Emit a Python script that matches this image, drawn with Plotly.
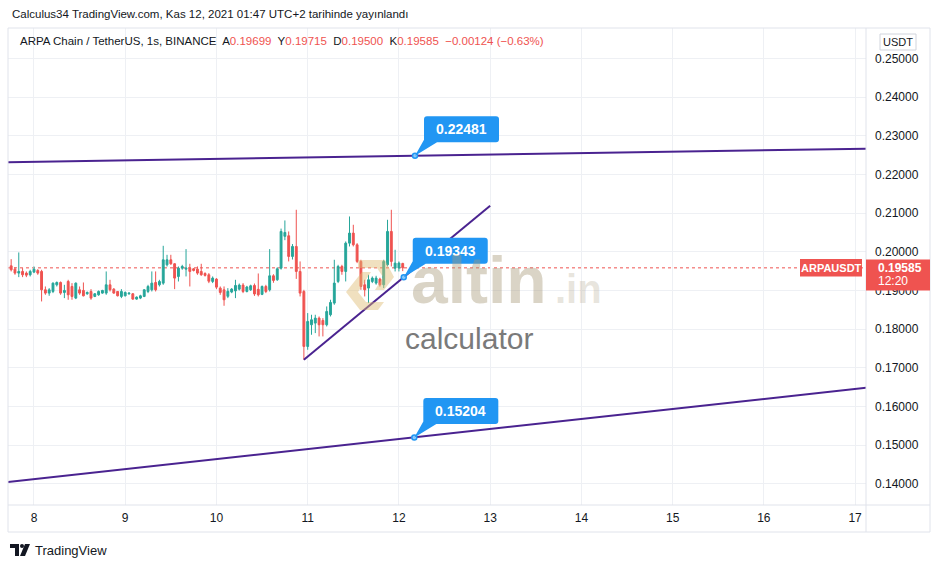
import plotly.graph_objects as go
import pandas as pd

# ---------------- data ----------------
first_candle = "2021-11-07 18:00"   # hourly candles (1s = 1 saat)
opens = [0.19638, 0.19552, 0.19449, 0.19492, 0.19449, 0.19406, 0.19475, 0.19518, 0.19492, 0.19018,
         0.18932, 0.18975, 0.19147, 0.19207, 0.18949, 0.19233, 0.19104, 0.18803, 0.19018, 0.19001,
         0.18915, 0.18975, 0.18846, 0.18889, 0.18932, 0.18932, 0.19147, 0.19035, 0.18975, 0.18846,
         0.18863, 0.18915, 0.18915, 0.18777, 0.18803, 0.18846, 0.18975, 0.19018, 0.19207, 0.19147,
         0.19190, 0.19664, 0.19793, 0.19690, 0.19363, 0.19578, 0.19552, 0.19578, 0.19561, 0.19552,
         0.19492, 0.19440, 0.19406, 0.19234, 0.19294, 0.19061, 0.19018, 0.18850, 0.18960, 0.18990,
         0.19035, 0.19140, 0.18975, 0.19018, 0.19130, 0.19030, 0.18900, 0.19104, 0.19018, 0.19380,
         0.19277, 0.19578, 0.20400, 0.20414, 0.19880, 0.20138, 0.19492, 0.18975, 0.17554, 0.18114,
         0.18157, 0.18286, 0.18226, 0.18114, 0.18373, 0.18674, 0.19234, 0.19621, 0.19492, 0.20224,
         0.20483, 0.20181, 0.19751, 0.19148, 0.19062, 0.19234, 0.19191, 0.19294, 0.19148, 0.19664,
         0.20526, 0.19578, 0.19580, 0.19699]
highs = [0.19810, 0.19604, 0.19983, 0.19578, 0.19492, 0.19535, 0.19621, 0.19552, 0.19535, 0.19104,
         0.19061, 0.19207, 0.19233, 0.19233, 0.19147, 0.19276, 0.19190, 0.19207, 0.19104, 0.19207,
         0.18975, 0.19035, 0.18932, 0.19001, 0.19018, 0.19492, 0.19276, 0.19061, 0.18975, 0.19035,
         0.18975, 0.18949, 0.18932, 0.18846, 0.18889, 0.19035, 0.19147, 0.19492, 0.19492, 0.19276,
         0.20155, 0.19922, 0.19922, 0.19707, 0.19621, 0.19664, 0.20069, 0.19690, 0.19578, 0.19621,
         0.19690, 0.19470, 0.19449, 0.19363, 0.19320, 0.19104, 0.19105, 0.19061, 0.19061, 0.19276,
         0.19180, 0.19190, 0.19120, 0.19150, 0.19180, 0.19440, 0.19130, 0.19147, 0.20069, 0.19420,
         0.19600, 0.20600, 0.20810, 0.20526, 0.20200, 0.21086, 0.19751, 0.19018, 0.18416, 0.18373,
         0.18373, 0.18329, 0.18286, 0.18588, 0.18760, 0.19794, 0.19664, 0.19664, 0.20267, 0.20913,
         0.20698, 0.20224, 0.19794, 0.19277, 0.19406, 0.19363, 0.19380, 0.19330, 0.19794, 0.20827,
         0.21086, 0.20052, 0.19751, 0.19715]
lows = [0.19492, 0.19406, 0.19345, 0.19345, 0.19345, 0.19363, 0.19449, 0.19406, 0.18717, 0.18889,
        0.18863, 0.18932, 0.19104, 0.18889, 0.18803, 0.18760, 0.18760, 0.18777, 0.18889, 0.18846,
        0.18889, 0.18760, 0.18829, 0.18863, 0.18915, 0.18889, 0.18975, 0.18915, 0.18846, 0.18803,
        0.18846, 0.18889, 0.18760, 0.18760, 0.18777, 0.18829, 0.18932, 0.18975, 0.18975, 0.19104,
        0.19147, 0.19621, 0.19664, 0.19035, 0.19233, 0.19535, 0.19363, 0.19104, 0.19492, 0.19406,
        0.19380, 0.19360, 0.19190, 0.19191, 0.19036, 0.18889, 0.18605, 0.18803, 0.18930, 0.18803,
        0.19000, 0.18932, 0.18950, 0.18990, 0.18860, 0.18846, 0.18880, 0.18932, 0.18975, 0.19200,
        0.19250, 0.19540, 0.20300, 0.19751, 0.19800, 0.19300, 0.18846, 0.17210, 0.17468, 0.17856,
        0.17899, 0.17813, 0.17813, 0.18071, 0.18329, 0.18631, 0.19191, 0.19406, 0.19234, 0.20138,
        0.20138, 0.19707, 0.19018, 0.18846, 0.18674, 0.19191, 0.19150, 0.19100, 0.19062, 0.19621,
        0.19621, 0.19492, 0.19492, 0.19500]
closes = [0.19535, 0.19449, 0.19492, 0.19406, 0.19397, 0.19492, 0.19552, 0.19449, 0.19018, 0.18932,
          0.19018, 0.19190, 0.19207, 0.18932, 0.19001, 0.18889, 0.18846, 0.19190, 0.18932, 0.18863,
          0.18949, 0.18803, 0.18915, 0.18975, 0.19001, 0.19147, 0.19018, 0.18932, 0.18863, 0.18975,
          0.18949, 0.18932, 0.18777, 0.18829, 0.18863, 0.19018, 0.19104, 0.19190, 0.19018, 0.19233,
          0.19793, 0.19793, 0.19690, 0.19320, 0.19578, 0.19621, 0.19578, 0.19492, 0.19518, 0.19449,
          0.19406, 0.19390, 0.19240, 0.19320, 0.19087, 0.18950, 0.18760, 0.18980, 0.19036, 0.19130,
          0.19140, 0.18975, 0.19090, 0.19121, 0.18910, 0.18889, 0.19104, 0.18975, 0.19380, 0.19260,
          0.19560, 0.20526, 0.20500, 0.19880, 0.20138, 0.19492, 0.18932, 0.17554, 0.18200, 0.18243,
          0.18286, 0.18114, 0.18114, 0.18459, 0.18691, 0.19191, 0.19621, 0.19492, 0.20224, 0.20483,
          0.20181, 0.19751, 0.19105, 0.19018, 0.19277, 0.19320, 0.19320, 0.19148, 0.19751, 0.20526,
          0.19751, 0.19707, 0.19709, 0.19585]

price_ticks = [0.14, 0.15, 0.16, 0.17, 0.18, 0.19, 0.20, 0.21, 0.22, 0.23, 0.24, 0.25]
day_ticks = ["2021-11-08", "2021-11-09", "2021-11-10", "2021-11-11", "2021-11-12",
             "2021-11-13", "2021-11-14", "2021-11-15", "2021-11-16", "2021-11-17"]
day_labels = ["8", "9", "10", "11", "12", "13", "14", "15", "16", "17"]

x_range = ["2021-11-07 17:10", "2021-11-17 02:52"]
y_range = [0.13457, 0.25783]

trend_upper_t = ["2021-11-07 17:00", "2021-11-17 03:00"]
trend_upper_p = [0.22313, 0.22665]
trend_lower_t = ["2021-11-07 17:00", "2021-11-17 03:00"]
trend_lower_p = [0.14048, 0.16489]
trend_rise_t = ["2021-11-10 23:00", "2021-11-13 00:00"]
trend_rise_p = [0.17210, 0.21191]

callout_t = ["2021-11-12 04:14", "2021-11-12 01:16", "2021-11-12 04:03"]
callout_p = [0.22481, 0.19343, 0.15204]

symbol = "ARPAUSDT"
countdown = "12:20"
title_line = "Calculus34 TradingView.com, Kas 12, 2021 01:47 UTC+2 tarihinde yayınlandı"
pair_line = "ARPA Chain / TetherUS, 1s, BINANCE"

# ---------------- style ----------------
UP, DOWN = "#26a69a", "#ef5350"
TREND = "#4a2390"
BLUE = "#2196f3"
GRID = "#eef0f4"
BORDER = "#e0e3eb"
TXT = "#131722"
FONT = "Liberation Sans"

W, H = 940, 568
PL, PR, PT, PB = 8, 866, 28, 505


def fx(px):
    return (px - PL) / (PR - PL)


def fy(py):
    return (PB - py) / (PB - PT)


times = pd.date_range(first_candle, periods=len(opens), freq="h")

fig = go.Figure()
fig.add_trace(go.Candlestick(
    x=times, open=opens, high=highs, low=lows, close=closes,
    increasing=dict(line=dict(color=UP, width=1), fillcolor=UP),
    decreasing=dict(line=dict(color=DOWN, width=1), fillcolor=DOWN),
    whiskerwidth=0, hoverinfo="skip", showlegend=False,
))

for t, p in [(trend_upper_t, trend_upper_p), (trend_lower_t, trend_lower_p), (trend_rise_t, trend_rise_p)]:
    fig.add_trace(go.Scatter(x=t, y=p, mode="lines", line=dict(color=TREND, width=2),
                             hoverinfo="skip", showlegend=False))

fig.add_trace(go.Scatter(x=callout_t, y=callout_p, mode="markers",
                         marker=dict(size=5, color="#90caf9", line=dict(color=BLUE, width=1.5)),
                         hoverinfo="skip", showlegend=False, cliponaxis=False))

shapes = []
annotations = []

# callout boxes with tail (pixel-sized, anchored at the data point)
callout_path = ("M 0 0 L 9 16 L 9 36.5 Q 9 39.5 12 39.5 L 81 39.5 Q 84 39.5 84 36.5 "
                "L 84 16.5 Q 84 13.5 81 13.5 L 22 13.5 Z")
for t, p in zip(callout_t, callout_p):
    shapes.append(dict(type="path", xref="x", yref="y", xsizemode="pixel", ysizemode="pixel",
                       xanchor=t, yanchor=p, path=callout_path,
                       fillcolor=BLUE, line=dict(width=0), layer="above"))
    annotations.append(dict(x=t, y=p, xref="x", yref="y", xshift=46.5, yshift=26.5,
                            xanchor="center", yanchor="middle",
                            text=f"<b>{p:.5f}</b>", showarrow=False,
                            font=dict(family=FONT, size=14, color="white")))

last_close = closes[-1]
prev_close = closes[-2]
chg = last_close - prev_close
chg_pct = chg / prev_close * 100

# dotted last price line
shapes.append(dict(type="line", xref="paper", yref="y", x0=0, x1=1, y0=last_close, y1=last_close,
                   line=dict(color=DOWN, width=1, dash="dot"), layer="below"))


# watermark logo (altin.in)
def poly(pts):
    return "M " + " L ".join(f"{fx(a):.5f} {fy(b):.5f}" for a, b in pts) + " Z"


shapes.append(dict(type="path", xref="paper", yref="paper",
                   path=poly([(358, 260), (385, 260), (394, 277), (384, 290), (375, 290),
                              (383, 277), (377, 268), (358, 268)]),
                   fillcolor="rgba(222,186,112,0.45)", line=dict(width=0), layer="above"))
shapes.append(dict(type="path", xref="paper", yref="paper",
                   path=poly([(362, 272), (371, 272), (358, 292), (366, 302), (384, 302),
                              (378, 310), (360, 310), (346, 292)]),
                   fillcolor="rgba(222,186,112,0.45)", line=dict(width=0), layer="above"))
annotations.append(dict(x=fx(409), y=fy(280), xref="paper", yref="paper", xanchor="left",
                        yanchor="middle", text="<b>altin</b>", showarrow=False,
                        font=dict(family=FONT, size=66, color="rgba(168,152,120,0.42)")))
annotations.append(dict(x=fx(553), y=fy(289), xref="paper", yref="paper", xanchor="left",
                        yanchor="middle", text="<b>.in</b>", showarrow=False,
                        font=dict(family=FONT, size=40, color="rgba(175,165,140,0.3)")))
annotations.append(dict(x=fx(469.5), y=fy(338.5), xref="paper", yref="paper", xanchor="center",
                        yanchor="middle", text="calculator", showarrow=False,
                        font=dict(family=FONT, size=30, color="#7a7a7a")))

# frame lines
shapes += [
    dict(type="rect", xref="paper", yref="paper", x0=fx(8), x1=fx(930), y0=fy(532), y1=fy(28),
         line=dict(color=BORDER, width=1), layer="above"),
    dict(type="line", xref="paper", yref="paper", x0=fx(866), x1=fx(866), y0=fy(532), y1=fy(28),
         line=dict(color=BORDER, width=1), layer="above"),
    dict(type="line", xref="paper", yref="paper", x0=fx(8), x1=fx(930), y0=fy(505), y1=fy(505),
         line=dict(color=BORDER, width=1), layer="above"),
]

# symbol label + last price label
shapes.append(dict(type="rect", xref="paper", yref="y", ysizemode="pixel", yanchor=last_close,
                   x0=fx(800), x1=fx(862), y0=-8.7, y1=8.8, fillcolor=DOWN, line=dict(width=0),
                   layer="above"))
shapes.append(dict(type="rect", xref="paper", yref="y", ysizemode="pixel", yanchor=last_close,
                   x0=fx(866), x1=fx(930), y0=-22.7, y1=8.3, fillcolor=DOWN, line=dict(width=0),
                   layer="above"))
annotations.append(dict(x=fx(831), y=last_close, xref="paper", yref="y", xanchor="center",
                        yanchor="middle", text=f"<b>{symbol}</b>",
                        showarrow=False, font=dict(family=FONT, size=11, color="white")))
annotations.append(dict(x=fx(876), y=last_close, xref="paper", yref="y", xanchor="left",
                        yanchor="middle", text=f"<b>{last_close:.5f}</b>", showarrow=False,
                        font=dict(family=FONT, size=12, color="white")))
annotations.append(dict(x=fx(876), y=last_close, xref="paper", yref="y", xanchor="left",
                        yanchor="middle", yshift=-13.5, text=countdown, showarrow=False,
                        font=dict(family=FONT, size=12, color="white")))

# USDT box
shapes.append(dict(type="rect", xref="paper", yref="paper", x0=fx(880), x1=fx(916), y0=fy(50), y1=fy(34),
                   line=dict(color="#d1d4dc", width=1), fillcolor="white", layer="above"))
annotations.append(dict(x=fx(898), y=fy(42), xref="paper", yref="paper", xanchor="center",
                        yanchor="middle", text="USDT", showarrow=False,
                        font=dict(family=FONT, size=11, color=TXT)))

# header lines
annotations.append(dict(x=fx(10), y=fy(14), xref="paper", yref="paper", xanchor="left", yanchor="middle",
                        text=title_line, showarrow=False, font=dict(family=FONT, size=11.5, color=TXT)))


def red(s):
    return f"<span style='color:{DOWN}'>{s}</span>"


pair_text = (f"{pair_line}  A{red(f'{opens[-1]:.5f}')}  Y{red(f'{highs[-1]:.5f}')}  "
             f"D{red(f'{lows[-1]:.5f}')}  K{red(f'{last_close:.5f}')}  "
             + red(f"{chg:+.5f} ({chg_pct:+.2f}%)".replace("-", "−")))
annotations.append(dict(x=fx(18), y=fy(41), xref="paper", yref="paper", xanchor="left", yanchor="middle",
                        text=pair_text, showarrow=False, font=dict(family=FONT, size=11.5, color=TXT)))

# TradingView footer
annotations.append(dict(x=fx(33), y=fy(550), xref="paper", yref="paper", xanchor="left", yanchor="middle",
                        text="TradingView", showarrow=False, font=dict(family=FONT, size=13, color=TXT)))
shapes.append(dict(type="path", xref="paper", yref="paper",
                   path=poly([(10, 544), (19, 544), (19, 556), (15, 556), (15, 548), (10, 548)]),
                   fillcolor=TXT, line=dict(width=0), layer="above"))
shapes.append(dict(type="circle", xref="paper", yref="paper", x0=fx(20), x1=fx(24), y0=fy(548), y1=fy(544),
                   fillcolor=TXT, line=dict(width=0), layer="above"))
shapes.append(dict(type="path", xref="paper", yref="paper",
                   path=poly([(25, 544), (30, 544), (25, 556), (20, 556)]),
                   fillcolor=TXT, line=dict(width=0), layer="above"))

fig.update_layout(
    width=W, height=H,
    margin=dict(l=PL, r=W - PR, t=PT, b=H - PB),
    paper_bgcolor="white", plot_bgcolor="white",
    showlegend=False, hovermode=False,
    shapes=shapes, annotations=annotations,
    xaxis=dict(type="date", range=x_range, rangeslider=dict(visible=False),
               tickvals=day_ticks, ticktext=day_labels, showgrid=True, gridcolor=GRID, gridwidth=1,
               zeroline=False, showline=False, ticks="", ticklabelstandoff=4,
               tickfont=dict(family=FONT, size=12, color=TXT)),
    yaxis=dict(side="right", range=y_range, tickvals=price_ticks,
               ticktext=[f"{v:.5f}" for v in price_ticks], showgrid=True, gridcolor=GRID,
               zeroline=False, showline=False, ticks="", ticklabelstandoff=8,
               tickfont=dict(family=FONT, size=12, color=TXT)),
)

fig.write_html("out.html", config={"displayModeBar": False},
               post_script="document.body.style.margin='0px'; document.body.style.overflow='hidden';")
